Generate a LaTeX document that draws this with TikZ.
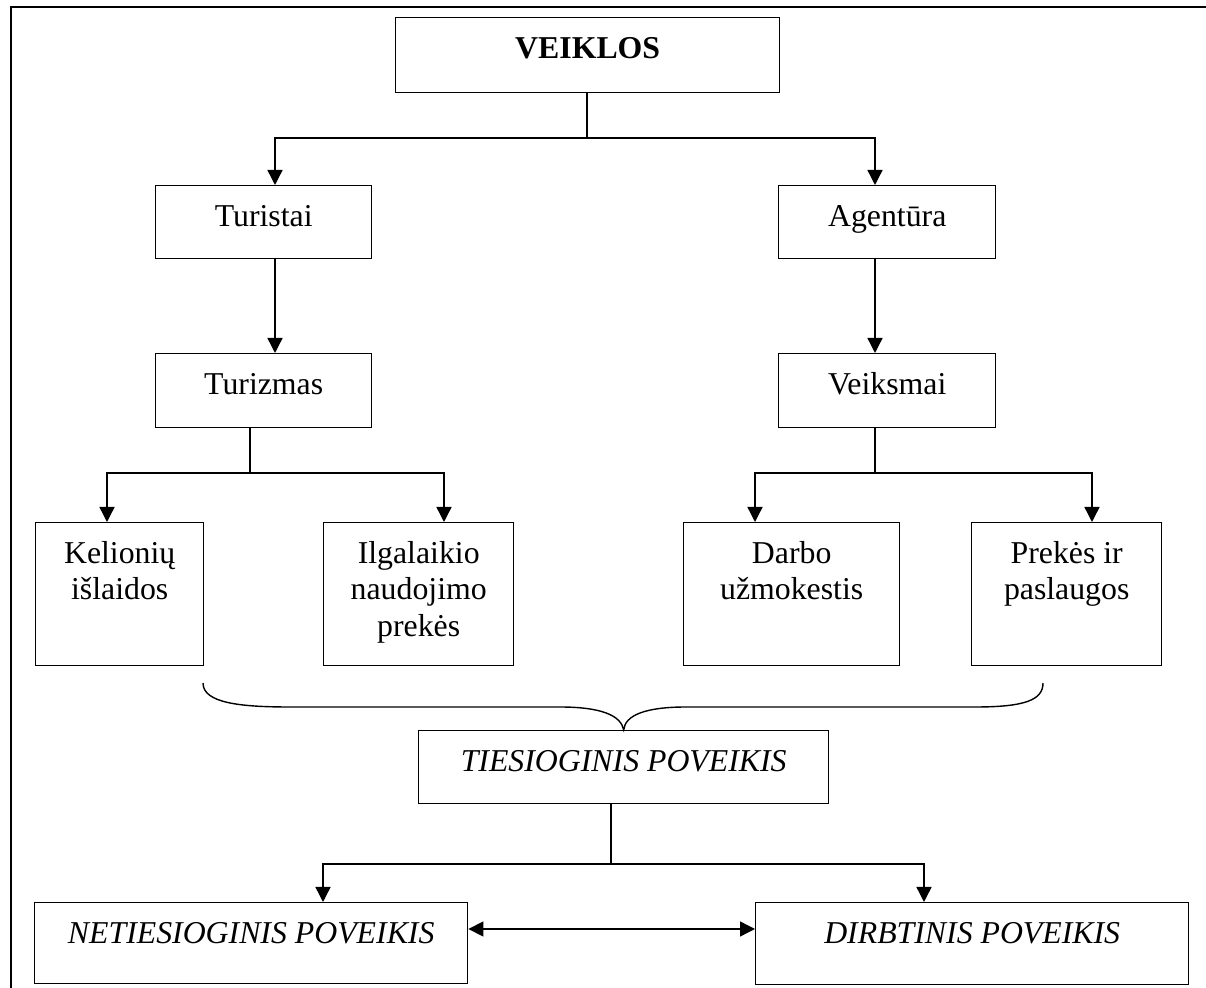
\documentclass[tikz,border=0pt]{standalone}
\usepackage{fontspec}
\setmainfont{Liberation Serif}
\usetikzlibrary{arrows.meta}
\newlength\PX
\setlength\PX{0.5pt}
\newcommand\bxt[3]{\parbox[c][#2\PX][t]{#1\PX}{\centering\rule{0pt}{20.3pt}#3}}
\begin{document}
\begin{tikzpicture}[x=0.5pt,y=-0.5pt,
  box/.style={draw,line width=0.7pt,inner sep=0pt,anchor=north west,font=\fontsize{15.9}{18.25}\selectfont},
  conn/.style={line width=0.7pt},
  arr/.style={conn,-{Triangle[length=7.5pt,width=7.5pt]}},
  darr/.style={conn,{Triangle[length=7.5pt,width=7.5pt]}-{Triangle[length=7.5pt,width=7.5pt]}},
  frame/.style={line width=1pt}]
\useasboundingbox (0,0) rectangle (1206,988);
\draw[frame] (11,988) -- (11,7.5) -- (1206,7.5);
% boxes
\node[box] (v)  at (395,17)  {\bxt{384}{75}{\textbf{VEIKLOS}}};
\node[box] (tu) at (155,185) {\bxt{216}{73}{Turistai}};
\node[box] (ag) at (778,185) {\bxt{217}{73}{Agentūra}};
\node[box] (tz) at (155,353) {\bxt{216}{74}{Turizmas}};
\node[box] (ve) at (778,353) {\bxt{217}{74}{Veiksmai}};
\node[box] (ke) at (35,522)  {\bxt{168}{143}{Kelionių\\išlaidos}};
\node[box] (il) at (323,522) {\bxt{190}{143}{Ilgalaikio\\naudojimo\\prekės}};
\node[box] (da) at (683,522) {\bxt{216}{143}{Darbo\\užmokestis}};
\node[box] (pr) at (971,522) {\bxt{190}{143}{Prekės ir\\paslaugos}};
\node[box] (ti) at (418,730) {\bxt{410}{73}{\textit{TIESIOGINIS POVEIKIS}}};
\node[box] (ne) at (34,902)  {\bxt{433}{81}{\textit{NETIESIOGINIS POVEIKIS}}};
\node[box] (di) at (755,902) {\bxt{433}{82}{\textit{DIRBTINIS POVEIKIS}}};
% junction coordinates
\coordinate (j1) at (587,138);
\coordinate (a1) at (275,138);
\coordinate (a2) at (875,138);
\coordinate (j2) at (250,473);
\coordinate (b1) at (107,473);
\coordinate (b2) at (444,473);
\coordinate (j3) at (875,473);
\coordinate (c1) at (755,473);
\coordinate (c2) at (1092,473);
\coordinate (j4) at (611,864);
\coordinate (d1) at (323,864);
\coordinate (d2) at (924,864);
\coordinate (h)  at (600,929);
\coordinate (br1) at (203,683);
\coordinate (br2) at (1043,683);
% connectors
\draw[conn] (v.south -| j1) -- (j1);
\draw[arr] (j1) -- (a1) -- (a1 |- tu.north);
\draw[arr] (j1) -- (a2) -- (a2 |- ag.north);
\draw[arr] (a1 |- tu.south) -- (a1 |- tz.north);
\draw[arr] (a2 |- ag.south) -- (a2 |- ve.north);
\draw[conn] (j2 |- tz.south) -- (j2);
\draw[arr] (j2) -- (b1) -- (b1 |- ke.north);
\draw[arr] (j2) -- (b2) -- (b2 |- il.north);
\draw[conn] (j3 |- ve.south) -- (j3);
\draw[arr] (j3) -- (c1) -- (c1 |- da.north);
\draw[arr] (j3) -- (c2) -- (c2 |- pr.north);
% brace
\draw[conn] (br1) .. controls (203,703) and (240,707) .. (290,707) -- (560,707)
  .. controls (600,707) and (621,715) .. (ti.north)
  .. controls (625,715) and (646,707) .. (686,707) -- (975,707)
  .. controls (1025,707) and (1043,700) .. (br2);
\draw[conn] (j4 |- ti.south) -- (j4);
\draw[arr] (j4) -- (d1) -- (d1 |- ne.north);
\draw[arr] (j4) -- (d2) -- (d2 |- di.north);
\draw[darr] (ne.east |- h) -- (di.west |- h);
\end{tikzpicture}
\end{document}
